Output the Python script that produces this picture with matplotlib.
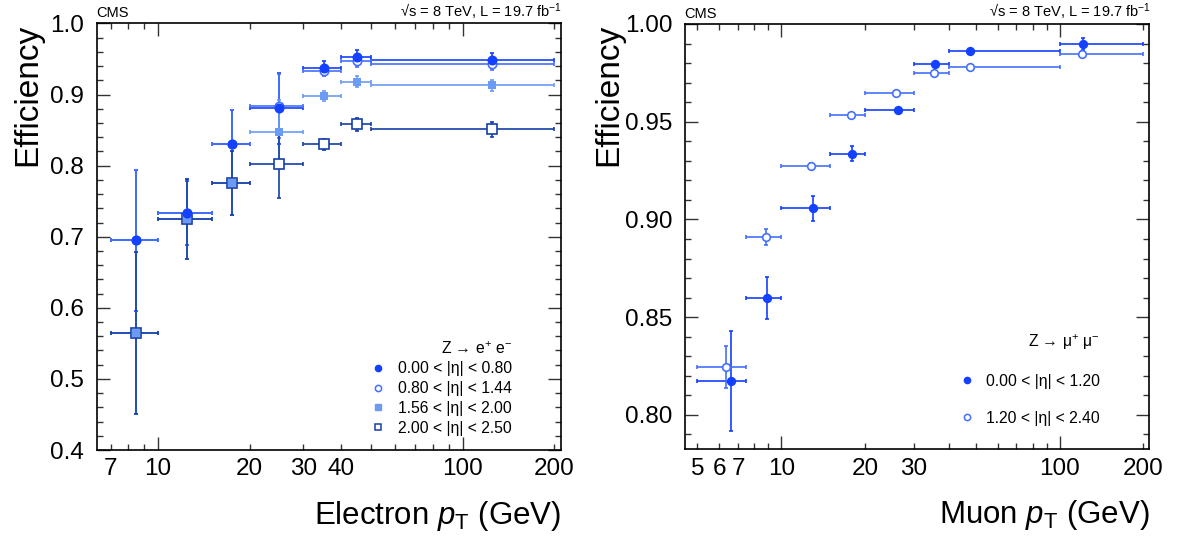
import matplotlib
matplotlib.use("Agg")
import matplotlib.pyplot as plt
from matplotlib.ticker import FixedLocator, FuncFormatter, MultipleLocator
from matplotlib.lines import Line2D

plt.rcParams['font.family'] = ['Liberation Sans', 'DejaVu Sans']
plt.rcParams['mathtext.fontset'] = 'custom'
plt.rcParams['mathtext.rm'] = 'Liberation Sans'
plt.rcParams['mathtext.it'] = 'Liberation Sans:italic'
plt.rcParams['mathtext.bf'] = 'Liberation Sans:bold'
plt.rcParams['mathtext.default'] = 'regular'

# electrons: bins in pT and efficiency per |eta| range
e_lo = [7, 10, 15, 20, 30, 40, 50]
e_hi = [10, 15, 20, 30, 40, 50, 200]
e_x = [8.5, 12.5, 17.5, 25, 35, 45, 125]
e_eff1 = [0.695, 0.733, 0.830, 0.881, 0.937, 0.953, 0.948]
e_err1 = [0.099, 0.045, 0.049, 0.050, 0.010, 0.010, 0.011]
e_eff2 = [0.695, 0.733, 0.830, 0.884, 0.933, 0.947, 0.943]
e_err2 = [0.099, 0.045, 0.049, 0.045, 0.007, 0.008, 0.009]
e_eff3 = [0.565, 0.725, 0.776, 0.848, 0.898, 0.918, 0.913]
e_err3 = [0.114, 0.056, 0.045, 0.045, 0.007, 0.008, 0.008]
e_eff4 = [0.565, 0.725, 0.776, 0.802, 0.830, 0.858, 0.851]
e_err4 = [0.114, 0.056, 0.045, 0.047, 0.008, 0.009, 0.010]
e_labels = ["0.00 < |η| < 0.80", "0.80 < |η| < 1.44",
            "1.56 < |η| < 2.00", "2.00 < |η| < 2.50"]

# muons
mu_lo = [5, 7.5, 10, 15, 20, 30, 40, 100]
mu_hi = [7.5, 10, 15, 20, 30, 40, 100, 200]
mu_x1 = [6.6, 8.9, 13.0, 17.9, 26.3, 35.7, 47.8, 121]
mu_eff1 = [0.8174, 0.8598, 0.9057, 0.9337, 0.9559, 0.9797, 0.9860, 0.9897]
mu_err1 = [0.0254, 0.0105, 0.0065, 0.0040, 0.0012, 0.0010, 0.0008, 0.0030]
mu_x2 = [6.35, 8.8, 12.8, 17.8, 25.9, 35.5, 47.7, 120.7]
mu_eff2 = [0.8246, 0.8909, 0.9273, 0.9532, 0.9645, 0.9749, 0.9780, 0.9846]
mu_err2 = [0.0107, 0.0040, 0.0015, 0.0010, 0.0008, 0.0008, 0.0007, 0.0015]
mu_labels = ["0.00 < |η| < 1.20", "1.20 < |η| < 2.40"]

C1 = '#1440ff'
C2 = '#4470ff'
C3 = '#6b9bf5'
C4 = '#1540a8'


def bars(ax, x, y, err, lo, hi, color):
    xerr = [[a - b for a, b in zip(x, lo)], [b - a for a, b in zip(x, hi)]]
    ax.errorbar(x, y, yerr=err, xerr=xerr, fmt='none', ecolor=color,
                elinewidth=1.2, capsize=1.6, capthick=1.2, zorder=2)


def marks(ax, x, y, marker, color, filled, ms, mew=1.2):
    ax.plot(x, y, ls='none', marker=marker, ms=ms, mew=mew, mec=color,
            mfc=color if filled else 'white', zorder=3)


def style(ax, xlim, ylim, minor_x, labelled, ymaj, ymin, yfmt):
    ax.set_xscale('log')
    ax.set_xlim(*xlim)
    ax.set_ylim(*ylim)
    ax.xaxis.set_major_locator(FixedLocator([10, 100]))
    ax.xaxis.set_minor_locator(FixedLocator(minor_x))
    fmt = FuncFormatter(lambda v, p: f"{v:g}" if round(v, 3) in labelled else "")
    ax.xaxis.set_major_formatter(fmt)
    ax.xaxis.set_minor_formatter(fmt)
    ax.yaxis.set_major_locator(MultipleLocator(ymaj))
    ax.yaxis.set_minor_locator(MultipleLocator(ymin))
    ax.yaxis.set_major_formatter(FuncFormatter(lambda v, p: yfmt.format(v)))
    ax.tick_params(which='both', direction='in', top=True, right=True,
                   labelsize=17.5, color='#333333')
    ax.tick_params(which='major', length=9.5, width=1.0)
    ax.tick_params(which='minor', length=4.5, width=1.0)
    ax.tick_params(axis='x', which='both', pad=6)
    ax.tick_params(axis='y', which='both', pad=9)
    for s in ax.spines.values():
        s.set_linewidth(1.2)
    ax.text(0.0, 1.015, "CMS", transform=ax.transAxes, fontsize=10.5,
            ha='left', va='baseline')
    ax.text(1.003, 1.015, r"√s = 8 TeV, L = 19.7 fb$^{-1}$", transform=ax.transAxes,
            fontsize=10.5, ha='right', va='baseline')


fig = plt.figure(figsize=(11.77, 5.45), dpi=100)
ax1 = fig.add_axes([0.0822, 0.1743, 0.3942, 0.7826])
ax2 = fig.add_axes([0.5817, 0.1756, 0.3947, 0.7804])

# left panel: electrons
bars(ax1, e_x, e_eff1, e_err1, e_lo, e_hi, C1)
bars(ax1, e_x, e_eff2, e_err2, e_lo, e_hi, C2)
bars(ax1, e_x, e_eff3, e_err3, e_lo, e_hi, C3)
bars(ax1, e_x, e_eff4, e_err4, e_lo, e_hi, C4)
marks(ax1, e_x, e_eff4, 's', C4, False, 6.6)
marks(ax1, e_x, e_eff3, 's', C3, True, 6.0, mew=0)
marks(ax1, e_x, e_eff2, 'o', C2, False, 6.0)
marks(ax1, e_x, e_eff1, 'o', C1, True, 6.0)
style(ax1, (6.3, 210), (0.4, 1.0), [7, 8, 9, 20, 30, 40, 50, 60, 70, 80, 90, 200],
      {7, 20, 30, 40, 200, 10, 100}, 0.1, 0.02, "{:.1f}")
ax1.set_xlabel(r"Electron $\mathit{p}_{\mathrm{T}}$ (GeV)", fontsize=22.5, loc='right')
ax1.set_ylabel("Efficiency", fontsize=24, loc='top')
ax1.yaxis.set_label_coords(-0.115, 1.0)
ax1.xaxis.set_label_coords(1.0, -0.115)

hs = [Line2D([], [], ls='none', marker='o', color=C1, ms=4.5),
      Line2D([], [], ls='none', marker='o', mfc='white', mec=C2, ms=4.5, mew=1.1),
      Line2D([], [], ls='none', marker='s', color=C3, ms=4.5),
      Line2D([], [], ls='none', marker='s', mfc='white', mec=C4, ms=4.5, mew=1.1)]
ax1.legend(hs, e_labels, title="Z → e$^{+}$ e$^{-}$", loc='lower right',
           bbox_to_anchor=(0.918, 0.008), frameon=False, fontsize=11.3,
           title_fontsize=11.3, handlelength=1.0, handletextpad=0.75,
           labelspacing=0.3, alignment='right', borderpad=0.2)

# right panel: muons
bars(ax2, mu_x1, mu_eff1, mu_err1, mu_lo, mu_hi, C1)
bars(ax2, mu_x2, mu_eff2, mu_err2, mu_lo, mu_hi, C2)
marks(ax2, mu_x2, mu_eff2, 'o', C2, False, 5.5)
marks(ax2, mu_x1, mu_eff1, 'o', C1, True, 5.5)
style(ax2, (4.5, 210), (0.7824, 1.0), [5, 6, 7, 8, 9, 20, 30, 40, 50, 60, 70, 80, 90, 200],
      {5, 6, 7, 20, 30, 200, 10, 100}, 0.05, 0.01, "{:.2f}")
ax2.set_xlabel(r"Muon $\mathit{p}_{\mathrm{T}}$ (GeV)", fontsize=22.5, loc='right')
ax2.set_ylabel("Efficiency", fontsize=24, loc='top')
ax2.yaxis.set_label_coords(-0.13, 1.0)
ax2.xaxis.set_label_coords(1.0, -0.115)

hs2 = [Line2D([], [], ls='none', marker='o', color=C1, ms=4.5),
       Line2D([], [], ls='none', marker='o', mfc='white', mec=C2, ms=4.5, mew=1.1)]
ax2.legend(hs2, mu_labels, title="Z → μ$^{+}$ μ$^{-}$", loc='lower right',
           bbox_to_anchor=(0.918, 0.03), frameon=False, fontsize=11.3,
           title_fontsize=11.3, handlelength=1.0, handletextpad=0.75,
           labelspacing=1.4, alignment='right', borderpad=0.2)

fig.savefig("out.png", dpi=100)
